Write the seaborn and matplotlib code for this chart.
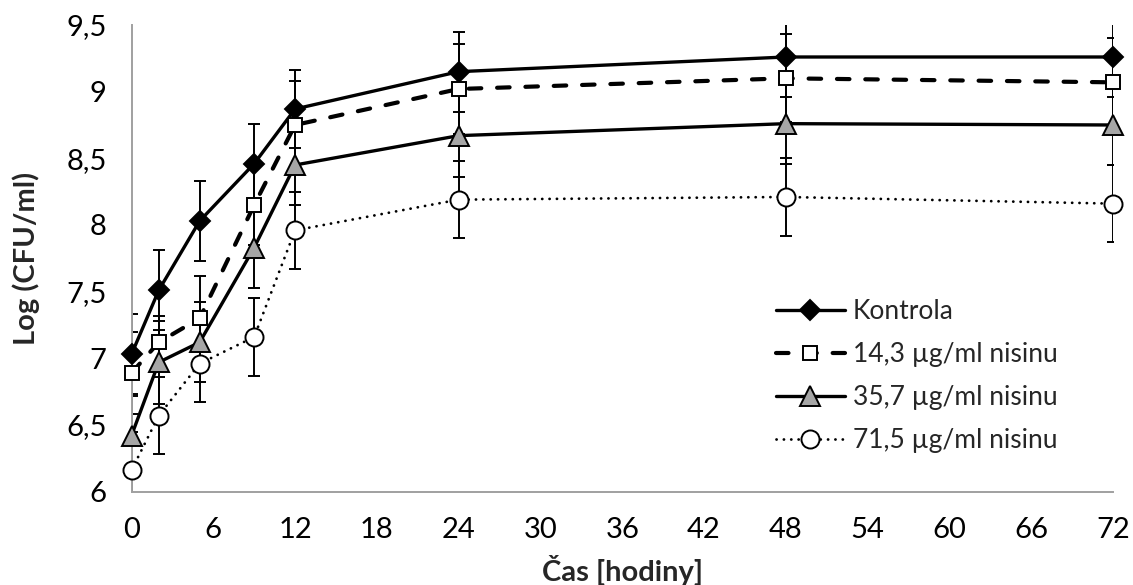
import matplotlib
matplotlib.use("Agg")
import matplotlib.pyplot as plt
import seaborn as sns
import pandas as pd
from matplotlib.ticker import FuncFormatter

# ---- data ----
hours = [0, 2, 5, 9, 12, 24, 48, 72]
series_names = ["Kontrola", "14,3 µg/ml nisinu", "35,7 µg/ml nisinu", "71,5 µg/ml nisinu"]
kontrola = [7.03, 7.51, 8.03, 8.46, 8.87, 9.15, 9.26, 9.26]
nisin_14 = [6.89, 7.12, 7.30, 8.15, 8.75, 9.02, 9.10, 9.07]
nisin_35 = [6.42, 6.97, 7.12, 7.83, 8.45, 8.67, 8.76, 8.75]
nisin_71 = [6.16, 6.57, 6.96, 7.16, 7.96, 8.19, 8.21, 8.16]
sd_kontrola = [0.30, 0.30, 0.30, 0.30, 0.29, 0.30, 0.30, 0.30]
sd_14 = [0.31, 0.20, 0.32, 0.30, 0.33, 0.34, 0.33, 0.33]
sd_35 = [0.30, 0.31, 0.30, 0.30, 0.30, 0.31, 0.30, 0.30]
sd_71 = [0.29, 0.29, 0.29, 0.29, 0.29, 0.29, 0.29, 0.29]
y_ticks = [6, 6.5, 7, 7.5, 8, 8.5, 9, 9.5]
x_ticks = [0, 6, 12, 18, 24, 30, 36, 42, 48, 54, 60, 66, 72]

df = pd.DataFrame({
    "t": hours * 4,
    "v": kontrola + nisin_14 + nisin_35 + nisin_71,
    "sd": sd_kontrola + sd_14 + sd_35 + sd_71,
    "s": sum([[n] * len(hours) for n in series_names], []),
})

sns.set_theme(style="white")
plt.rcParams["font.family"] = ["Lato", "DejaVu Sans"]

fig = plt.figure(figsize=(11.33, 5.85), dpi=100)
ax = fig.add_axes([131.5 / 1133, 1 - 491.6 / 585, (1113 - 131.5) / 1133, (491.6 - 25) / 585])

styles = {
    "Kontrola": dict(marker="D", markersize=9.8, markerfacecolor="black", markeredgecolor="black",
                     linestyle="-", linewidth=2.4),
    "14,3 µg/ml nisinu": dict(marker="s", markersize=9.5, markerfacecolor="white", markeredgecolor="black",
                              linestyle=(0, (3.0, 3.8)), linewidth=3.0, dash_capstyle="round"),
    "35,7 µg/ml nisinu": dict(marker="^", markersize=15, markerfacecolor="#a6a6a6", markeredgecolor="black",
                              linestyle="-", linewidth=2.4),
    "71,5 µg/ml nisinu": dict(marker="o", markersize=13, markerfacecolor="white", markeredgecolor="black",
                              linestyle=(0, (0.05, 2.6)), linewidth=2.0, dash_capstyle="round"),
}

# error bars first (below lines/markers)
for name in series_names:
    sub = df[df["s"] == name]
    ax.errorbar(sub["t"], sub["v"], yerr=sub["sd"], fmt="none", ecolor="black",
                elinewidth=1.4, capsize=4.3, capthick=1.4, zorder=2)

for name in series_names:
    sub = df[df["s"] == name]
    sns.lineplot(data=sub, x="t", y="v", ax=ax, color="black", label=name,
                 markeredgewidth=1.4, zorder=3, clip_on=False, estimator=None,
                 **styles[name])

ax.set_xlim(0, 72)
ax.set_ylim(6, 9.5)
ax.set_xticks(x_ticks)
ax.set_yticks(y_ticks)
fmt = FuncFormatter(lambda v, p: ("%g" % v).replace(".", ","))
ax.yaxis.set_major_formatter(fmt)
ax.xaxis.set_major_formatter(fmt)

for side in ["top", "right"]:
    ax.spines[side].set_visible(False)
for side in ["left", "bottom"]:
    ax.spines[side].set_color("#a0a0a0")
    ax.spines[side].set_linewidth(1.4)
ax.tick_params(axis="both", which="major", direction="out", length=6, width=1.3,
               color="#a0a0a0", labelsize=21, labelcolor="black")
ax.tick_params(axis="y", pad=12)
ax.tick_params(axis="x", pad=12)

ax.set_xlabel("Čas [hodiny]", fontsize=21, fontweight="bold")
ax.set_ylabel("Log (CFU/ml)", fontsize=21, fontweight="bold")
ax.xaxis.set_label_coords(0.5, -0.135)
ax.yaxis.set_label_coords(-0.093, 0.5)

leg = ax.legend(loc="upper left", bbox_to_anchor=(776 / 1133, 1 - 299 / 585),
                bbox_transform=fig.transFigure, frameon=False, fontsize=19,
                handlelength=2.6, handletextpad=0.3, labelspacing=0.68, borderpad=0,
                borderaxespad=0)

fig.savefig("out.png", dpi=100)
